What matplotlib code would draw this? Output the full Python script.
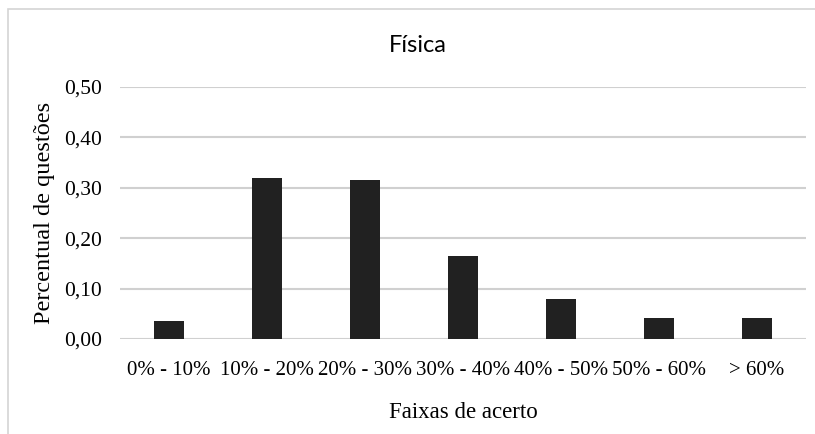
import matplotlib
matplotlib.use("Agg")
import matplotlib.pyplot as plt
from matplotlib.patches import Rectangle

# Faixas de acerto and share of questions in each range
faixas = ["0% - 10%", "10% - 20%", "20% - 30%", "30% - 40%",
          "40% - 50%", "50% - 60%", "> 60%"]
percentual = [0.036, 0.320, 0.316, 0.165, 0.079, 0.042, 0.042]
yticks = [0.0, 0.1, 0.2, 0.3, 0.4, 0.5]
ytick_labels = ["0,00", "0,10", "0,20", "0,30", "0,40", "0,50"]

serif = ["Liberation Serif", "DejaVu Serif"]
grid_color = "#d0d0d0"
bar_color = "#212121"

fig = plt.figure(figsize=(8.15, 4.34), dpi=100)
ax = fig.add_axes([0.147, 0.219, 0.842, 0.581])

x = range(len(faixas))
ax.bar(x, percentual, width=0.31, color=bar_color, zorder=3)

ax.set_xlim(-0.5, len(faixas) - 0.5)
ax.set_ylim(0, 0.5)
ax.set_yticks(yticks)
ax.set_yticklabels(ytick_labels, fontfamily=serif, fontsize=15.5)
ax.set_xticks(list(x))
ax.set_xticklabels(faixas, fontfamily=serif, fontsize=15)
ax.tick_params(axis="both", length=0)
ax.tick_params(axis="y", pad=13)
ax.tick_params(axis="x", pad=16)

ax.yaxis.grid(True, color=grid_color, linewidth=1.5, zorder=0)
ax.set_axisbelow(True)
for s in ax.spines.values():
    s.set_visible(False)

ax.set_ylabel("Percentual de questões", fontfamily=serif, fontsize=17.5,
              labelpad=6)
ax.set_xlabel("Faixas de acerto", fontfamily=serif, fontsize=16.5,
              labelpad=16)

fig.text(418 / 815, 1 - 45 / 434, "Física", ha="center", va="center",
         fontfamily=["Lato", "DejaVu Sans"], fontsize=17)

# light frame around the chart area
fig.patches.append(Rectangle((8 / 815, -0.05), 1.1, 1 - 9 / 434 + 0.05,
                             transform=fig.transFigure, fill=False,
                             edgecolor="#d4d4d4", linewidth=1.2))

fig.savefig("out.png", dpi=100)
